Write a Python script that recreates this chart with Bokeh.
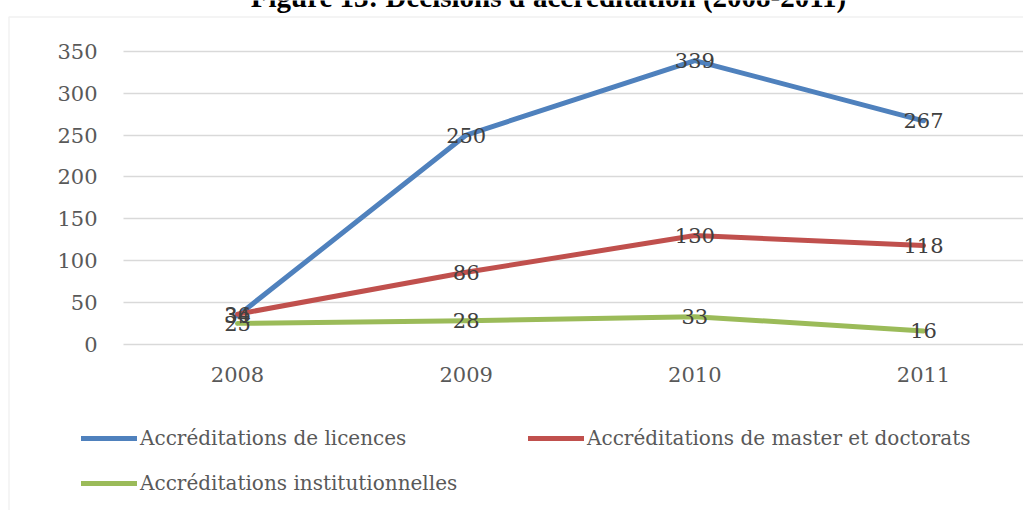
from bokeh.plotting import figure
from bokeh.models import (Range1d, FixedTicker, Legend, LegendItem, Label,
                          BoxAnnotation, ColumnDataSource, Grid)
from bokeh.embed import file_html
from bokeh.resources import INLINE
from bokeh.core.properties import value

# ---- data ----
years = [2008, 2009, 2010, 2011]
licences = [34, 250, 339, 267]
master_doctorats = [36, 86, 130, 118]
institutionnelles = [25, 28, 33, 16]
y_ticks = [0, 50, 100, 150, 200, 250, 300, 350]
title_text = "Figure 13: Décisions d'accréditation (2008-2011)"
series_names = ["Accréditations de licences",
                "Accréditations de master et doctorats",
                "Accréditations institutionnelles"]
colors = ["#4F81BD", "#C0504D", "#9BBB59"]

# ---- layout (picture px); the frame covers the whole canvas ----
W, H = 1023, 510
first_cat_px = 237.0      # x pixel of first category
cat_px = 228.67           # pixel distance between categories
zero_px = 343.8           # y pixel of value 0
px_per_unit = 0.837

x_start = years[0] - first_cat_px / cat_px
x_end = x_start + W / cat_px
y_start = -(H - zero_px) / px_per_unit
y_end = zero_px / px_per_unit

p = figure(width=W, height=H, output_backend="svg", toolbar_location=None,
           x_range=Range1d(x_start, x_end), y_range=Range1d(y_start, y_end),
           min_border_left=0, min_border_right=0,
           min_border_top=0, min_border_bottom=0)
p.outline_line_color = None
p.background_fill_color = "white"
p.border_fill_color = "white"

tick_font = "DejaVu Serif"
p.yaxis.ticker = FixedTicker(ticks=y_ticks)
p.xaxis.ticker = FixedTicker(ticks=years)
for ax in (p.xaxis[0], p.yaxis[0]):
    ax.axis_line_color = None
    ax.major_tick_line_color = None
    ax.minor_tick_line_color = None
    ax.major_label_text_font = tick_font
    ax.major_label_text_font_size = "21px"
    ax.major_label_text_color = "#595959"
p.yaxis.major_label_standoff = -103
p.xaxis.major_label_standoff = -(H - 360)

p.xgrid.grid_line_color = None
p.ygrid.grid_line_color = "#D9D9D9"
p.ygrid.grid_line_width = 1.5
if "cross_bounds" in Grid.properties():
    p.ygrid.cross_bounds = (years[0] - 0.5, x_end + 1)

series = [licences, master_doctorats, institutionnelles]
renderers = []
for vals, c in zip(series, colors):
    r = p.line(years, vals, line_color=c, line_width=5,
               line_cap="round", line_join="round")
    renderers.append(r)

for vals in series:
    src = ColumnDataSource(dict(x=years, y=vals, t=[str(v) for v in vals]))
    p.text(x="x", y="y", text="t", source=src, text_align="center",
           text_baseline="middle", text_font=value(tick_font),
           text_font_size="21px", text_color="#404040")

leg_kw = dict(glyph_width=56, glyph_height=24, label_height=24,
              label_standoff=3, spacing=21, padding=0, margin=0,
              border_line_color=None, background_fill_alpha=0,
              label_text_font=tick_font, label_text_font_size="20px",
              label_text_color="#595959")
legA = Legend(items=[LegendItem(label=series_names[0], renderers=[renderers[0]]),
                     LegendItem(label=series_names[2], renderers=[renderers[2]])],
              location=(81, H - 426 - 69), **leg_kw)
legB = Legend(items=[LegendItem(label=series_names[1], renderers=[renderers[1]])],
              location=(528, H - 426 - 24), **leg_kw)
p.add_layout(legA)
p.add_layout(legB)

box = BoxAnnotation(left=8.5, right=W + 50, top=H - 16.5, bottom=-50,
                    left_units="screen", right_units="screen",
                    top_units="screen", bottom_units="screen",
                    fill_alpha=0, line_color="#D0D0D0", line_width=1.5,
                    level="overlay")
p.add_layout(box)

title = Label(x=548, y=H + 4, x_units="screen", y_units="screen",
              text=title_text, text_align="center",
              text_baseline="alphabetic", text_font="Liberation Serif",
              text_font_style="bold", text_font_size="29px",
              text_color="black")
p.add_layout(title)

open("out.html", "w").write(file_html(p, INLINE))
